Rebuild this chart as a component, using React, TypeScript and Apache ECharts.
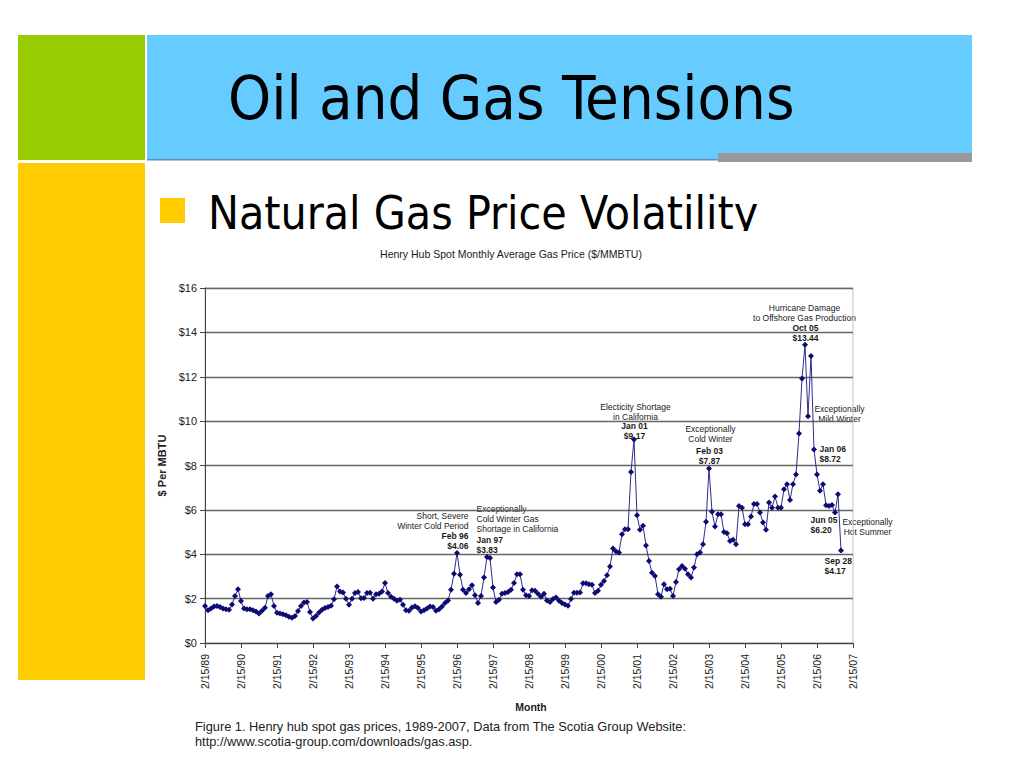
import React, { useEffect, useRef } from "react";
import * as echarts from "echarts";

// Henry Hub monthly average spot price ($/MMBTU), one value per month from Feb 1989
const prices1989 = [1.67, 1.48, 1.55, 1.64, 1.67, 1.62, 1.55, 1.52, 1.5, 1.74, 2.12];
const prices1990 = [2.42, 1.89, 1.55, 1.52, 1.52, 1.48, 1.42, 1.33, 1.45, 1.59, 2.12, 2.2];
const prices1991 = [1.67, 1.36, 1.33, 1.3, 1.25, 1.18, 1.14, 1.22, 1.44, 1.67, 1.82, 1.85];
const prices1992 = [1.4, 1.1, 1.22, 1.38, 1.5, 1.58, 1.62, 1.68, 1.97, 2.55, 2.32, 2.28];
const prices1993 = [2.0, 1.72, 2.0, 2.25, 2.3, 2.02, 2.03, 2.25, 2.27, 2.0, 2.2, 2.22];
const prices1994 = [2.32, 2.7, 2.25, 2.08, 2.0, 1.9, 1.95, 1.72, 1.48, 1.45, 1.6, 1.66];
const prices1995 = [1.58, 1.42, 1.48, 1.55, 1.64, 1.62, 1.45, 1.52, 1.65, 1.8, 1.92, 2.4];
const prices1996 = [3.12, 4.06, 3.08, 2.4, 2.25, 2.42, 2.6, 2.15, 1.8, 2.12, 2.95, 3.88];
const prices1997 = [3.83, 2.5, 1.85, 1.95, 2.22, 2.25, 2.3, 2.4, 2.7, 3.1, 3.1, 2.4];
const prices1998 = [2.15, 2.12, 2.38, 2.35, 2.22, 2.08, 2.22, 1.92, 1.85, 1.98, 2.05, 1.9];
const prices1999 = [1.8, 1.74, 1.68, 1.98, 2.27, 2.27, 2.28, 2.69, 2.69, 2.65, 2.62, 2.25];
const prices2000 = [2.35, 2.62, 2.8, 3.05, 3.45, 4.26, 4.12, 4.08, 4.9, 5.13, 5.13, 7.71];
const prices2001 = [9.17, 5.76, 5.1, 5.28, 4.4, 3.7, 3.17, 3.02, 2.2, 2.09, 2.65, 2.42];
const prices2002 = [2.45, 2.12, 2.75, 3.32, 3.47, 3.35, 3.1, 2.95, 3.4, 4.0, 4.08, 4.45];
const prices2003 = [5.46, 7.87, 5.91, 5.25, 5.8, 5.8, 5.0, 4.95, 4.6, 4.65, 4.45, 6.18];
const prices2004 = [6.1, 5.35, 5.35, 5.7, 6.26, 6.26, 5.88, 5.43, 5.1, 6.33, 6.1, 6.6];
const prices2005 = [6.1, 6.1, 6.93, 7.16, 6.45, 7.16, 7.6, 9.44, 11.92, 13.44, 10.22, 12.94];
const prices2006 = [8.72, 7.6, 6.86, 7.16, 6.21, 6.18, 6.22, 5.88, 6.7, 4.17];

const tickYears = ["89", "90", "91", "92", "93", "94", "95", "96", "97", "98", "99", "00", "01", "02", "03", "04", "05", "06", "07"];

const yTicks = [0, 2, 4, 6, 8, 10, 12, 14, 16];

// annotation texts, anchored to a month index of the series
const notes = [
  { id: "feb96d", month: 84, text: "Short, Severe\nWinter Cold Period" },
  { id: "feb96v", month: 84, text: "Feb 96\n$4.06" },
  { id: "jan97d", month: 95, text: "Exceptionally\nCold Winter Gas\nShortage in California" },
  { id: "jan97v", month: 95, text: "Jan 97\n$3.83" },
  { id: "jan01d", month: 143, text: "Electicity Shortage\nin California" },
  { id: "jan01v", month: 143, text: "Jan 01\n$9.17" },
  { id: "feb03d", month: 168, text: "Exceptionally\nCold Winter" },
  { id: "feb03v", month: 168, text: "Feb 03\n$7.87" },
  { id: "oct05d", month: 200, text: "Hurricane Damage\nto Offshore Gas Production" },
  { id: "oct05v", month: 200, text: "Oct 05\n$13.44" },
  { id: "mildd", month: 201, text: "Exceptionally\nMild Winter" },
  { id: "jan06v", month: 203, text: "Jan 06\n$8.72" },
  { id: "jun05v", month: 209, text: "Jun 05\n$6.20" },
  { id: "hotd", month: 211, text: "Exceptionally\nHot Summer" },
  { id: "sep28v", month: 212, text: "Sep 28\n$4.17" },
];

// label placement (pixels relative to the anchored point)
const noteLayout: Record<string, { dx: number; dy: number; align: string; bold: boolean }> = {
  feb96d: { dx: 12, dy: -41, align: "right", bold: false },
  feb96v: { dx: 12, dy: -21, align: "right", bold: true },
  jan97d: { dx: -13, dy: -54, align: "left", bold: false },
  jan97v: { dx: -13, dy: -23, align: "left", bold: true },
  jan01d: { dx: 2, dy: -37.5, align: "center", bold: false },
  jan01v: { dx: 1, dy: -18, align: "center", bold: true },
  feb03d: { dx: 2, dy: -43.5, align: "center", bold: false },
  feb03v: { dx: 1, dy: -21.5, align: "center", bold: true },
  oct05d: { dx: 0, dy: -41, align: "center", bold: false },
  oct05v: { dx: 1, dy: -21, align: "center", bold: true },
  mildd: { dx: 32, dy: -12, align: "center", bold: false },
  jan06v: { dx: 6, dy: -5, align: "left", bold: true },
  jun05v: { dx: -21, dy: 10.5, align: "left", bold: true },
  hotd: { dx: 30, dy: 23, align: "center", bold: false },
  sep28v: { dx: -16, dy: 6, align: "left", bold: true },
};

const allPrices = [
  ...prices1989, ...prices1990, ...prices1991, ...prices1992, ...prices1993, ...prices1994,
  ...prices1995, ...prices1996, ...prices1997, ...prices1998, ...prices1999, ...prices2000,
  ...prices2001, ...prices2002, ...prices2003, ...prices2004, ...prices2005, ...prices2006,
];

const ARIAL = "'Liberation Sans', Arial, sans-serif";
const SLIDE_FONT = "'DejaVu Sans Condensed', 'Liberation Sans', sans-serif";

export default function App() {
  const ref = useRef<HTMLDivElement>(null);

  useEffect(() => {
    if (!ref.current) return;
    const chart = echarts.init(ref.current, undefined, { renderer: "svg" });

    const seriesData = allPrices.map((v, i) => [i, v]);

    const markData = notes.map((n) => {
      const l = noteLayout[n.id];
      return {
        coord: [n.month, allPrices[n.month]],
        label: {
          show: true,
          formatter: n.text,
          position: [l.dx, l.dy],
          align: l.align,
          verticalAlign: "top",
          fontSize: 8.5,
          lineHeight: 10,
          fontFamily: ARIAL,
          fontWeight: l.bold ? "bold" : "normal",
          color: "#1a1a1a",
        },
      };
    });

    chart.setOption({
      animation: false,
      backgroundColor: "#ffffff",
      grid: {
        left: 205,
        top: 288,
        width: 648,
        height: 355,
        show: true,
        borderColor: "#c4c4c4",
        borderWidth: 1,
        backgroundColor: "rgba(0,0,0,0)",
        z: 10,
      },
      xAxis: {
        type: "value",
        min: 0,
        max: 216,
        interval: 12,
        z: 10,
        axisLine: { show: true, lineStyle: { color: "#444", width: 1 } },
        axisTick: { show: true, length: 5, lineStyle: { color: "#444" } },
        axisLabel: {
          rotate: 90,
          margin: 11,
          fontSize: 10.5,
          color: "#222",
          fontFamily: ARIAL,
          formatter: (v: number) => "2/15/" + tickYears[Math.round(v / 12)],
        },
        splitLine: { show: false },
      },
      yAxis: {
        type: "value",
        min: yTicks[0],
        max: yTicks[yTicks.length - 1],
        interval: 2,
        z: 10,
        name: "$ Per MBTU",
        nameLocation: "middle",
        nameGap: 32,
        nameTextStyle: { fontSize: 11, fontWeight: "bold", color: "#222", fontFamily: ARIAL },
        axisLine: { show: true, lineStyle: { color: "#444", width: 1 } },
        axisTick: { show: true, length: 5, lineStyle: { color: "#444" } },
        axisLabel: {
          margin: 8,
          fontSize: 11,
          color: "#222",
          fontFamily: ARIAL,
          formatter: (v: number) => "$" + v,
        },
        splitLine: { show: true, lineStyle: { color: "#666", width: 1.3 } },
      },
      series: [
        {
          type: "line",
          z: 12,
          data: seriesData,
          symbol: "diamond",
          symbolSize: 6,
          showSymbol: true,
          itemStyle: { color: "#0b0b72" },
          lineStyle: { color: "#2d2d8e", width: 1 },
          markPoint: {
            symbol: "rect",
            symbolSize: 1,
            silent: true,
            itemStyle: { color: "rgba(0,0,0,0)" },
            data: markData,
          },
        },
      ],
      graphic: [
        { type: "rect", z: 0, shape: { x: 18, y: 35, width: 127, height: 125 }, style: { fill: "#99cc00" } },
        { type: "rect", z: 0, shape: { x: 147, y: 35, width: 825, height: 125 }, style: { fill: "#66ccff" } },
        { type: "rect", z: 0, shape: { x: 147, y: 159, width: 571, height: 1.5 }, style: { fill: "#5b8fb3" } },
        { type: "rect", z: 0, shape: { x: 718, y: 153, width: 254, height: 9 }, style: { fill: "#999999" } },
        { type: "rect", z: 0, shape: { x: 18, y: 163, width: 127, height: 517 }, style: { fill: "#ffcc00" } },
        { type: "rect", z: 0, shape: { x: 160, y: 198, width: 25, height: 25 }, style: { fill: "#ffcc00" } },
        {
          type: "text",
          z: 0,
          x: 228,
          y: 97,
          style: {
            text: "Oil and Gas Tensions",
            fontSize: 61,
            fontFamily: SLIDE_FONT,
            fill: "#000",
            verticalAlign: "middle",
            align: "left",
          },
        },
        {
          type: "text",
          z: 0,
          x: 208,
          y: 212.5,
          style: {
            text: "Natural Gas Price Volatility",
            fontSize: 46,
            fontFamily: SLIDE_FONT,
            fill: "#000",
            verticalAlign: "middle",
            align: "left",
          },
        },
        { type: "rect", z: 1, shape: { x: 147, y: 231, width: 877, height: 537 }, style: { fill: "#ffffff" } },
        {
          type: "text",
          z: 2,
          x: 511,
          y: 254,
          style: {
            text: "Henry Hub Spot Monthly Average Gas Price ($/MMBTU)",
            fontSize: 10.5,
            fontFamily: ARIAL,
            fill: "#1a1a1a",
            align: "center",
            verticalAlign: "middle",
          },
        },
        {
          type: "text",
          z: 2,
          x: 531,
          y: 707,
          style: {
            text: "Month",
            fontSize: 10.5,
            fontWeight: "bold",
            fontFamily: ARIAL,
            fill: "#1a1a1a",
            align: "center",
            verticalAlign: "middle",
          },
        },
        {
          type: "text",
          z: 2,
          x: 195,
          y: 719,
          style: {
            text: "Figure 1. Henry hub spot gas prices, 1989-2007, Data from The Scotia Group Website:\nhttp://www.scotia-group.com/downloads/gas.asp.",
            fontSize: 12.8,
            lineHeight: 15,
            fontFamily: ARIAL,
            fill: "#222",
            align: "left",
            verticalAlign: "top",
          },
        },
      ],
    });

    return () => chart.dispose();
  }, []);

  return (
    <div
      ref={ref}
      style={{ position: "absolute", left: 0, top: 0, width: 1024, height: 768, background: "#fff" }}
    />
  );
}
